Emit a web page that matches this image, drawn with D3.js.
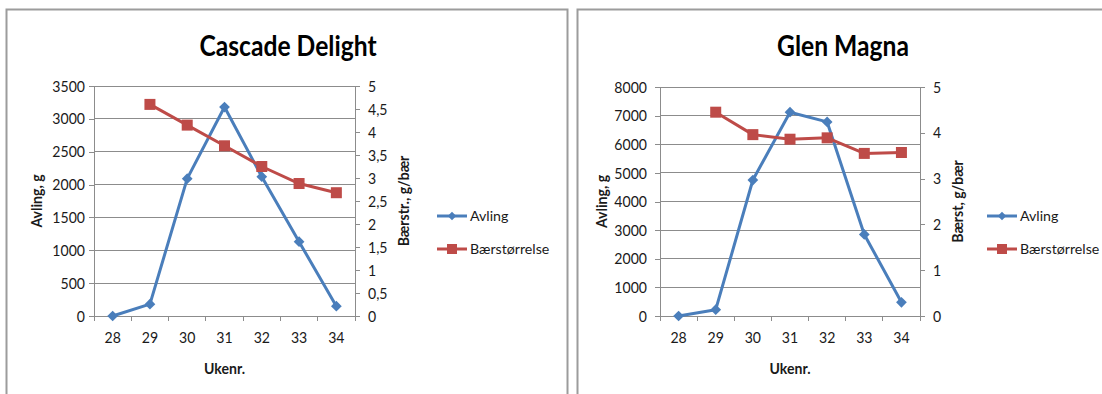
<!DOCTYPE html>
<html>
<head>
<meta charset="utf-8">
<script src="https://cdn.jsdelivr.net/npm/d3@7"></script>
<style>
  html, body { margin: 0; padding: 0; background: #fff; }
  svg { display: block; font-family: Lato, "Open Sans", sans-serif; }
</style>
</head>
<body>
<svg id="chart" width="1102" height="394"></svg>
<script>
// Weeks (x categories), shared by both varieties
const weeks = [28, 29, 30, 31, 32, 33, 34];

// Cascade Delight
const cascadeYield = [0, 180, 2090, 3180, 2120, 1130, 150];          // Avling, g
const cascadeBerry = [null, 4.6, 4.15, 3.7, 3.25, 2.88, 2.68];       // Bærstørrelse, g/bær
const cascadeYieldTicks = [0, 500, 1000, 1500, 2000, 2500, 3000, 3500];
const cascadeBerryTicks = [0, 0.5, 1, 1.5, 2, 2.5, 3, 3.5, 4, 4.5, 5];

// Glen Magna
const glenYield = [0, 220, 4750, 7120, 6780, 2850, 480];
const glenBerry = [null, 4.45, 3.96, 3.86, 3.89, 3.55, 3.57];
const glenYieldTicks = [0, 1000, 2000, 3000, 4000, 5000, 6000, 7000, 8000];
const glenBerryTicks = [0, 1, 2, 3, 4, 5];

const seriesNames = ["Avling", "Bærstørrelse"];

const BLUE = "#4a7ebb";
const RED = "#be4b48";
const GRID = "#8c8c8c";
const TEXT = "#1a1a1a";

const svg = d3.select("#chart");
const commaFmt = v => String(v).replace(".", ",");

function panel(cfg) {
  const g = svg.append("g");

  // frame
  g.append("rect")
    .attr("x", cfg.frame[0]).attr("y", cfg.frame[1])
    .attr("width", cfg.frame[2]).attr("height", cfg.frame[3])
    .attr("fill", "none").attr("stroke", "#9c9c9c").attr("stroke-width", 2);

  const x = d3.scaleBand().domain(weeks).range([cfg.left, cfg.right]);
  const yL = d3.scaleLinear().domain([0, d3.max(cfg.yTicks)]).range([cfg.bottom, cfg.top]);
  const yR = d3.scaleLinear().domain([0, d3.max(cfg.rTicks)]).range([cfg.bottom, cfg.top]);
  const cx = d => x(d) + x.bandwidth() / 2;

  // horizontal gridlines
  g.append("g").selectAll("line").data(cfg.yTicks.slice(1)).join("line")
    .attr("x1", cfg.left).attr("x2", cfg.right)
    .attr("y1", d => yL(d)).attr("y2", d => yL(d))
    .attr("stroke", GRID).attr("stroke-width", 1)
    .attr("shape-rendering", "crispEdges");

  // left axis
  const axL = g.append("g").attr("transform", `translate(${cfg.left},0)`)
    .call(d3.axisLeft(yL).tickValues(cfg.yTicks).tickSize(5).tickPadding(cfg.lPad)
      .tickFormat(d3.format("d")));
  // right axis
  const axR = g.append("g").attr("transform", `translate(${cfg.right},0)`)
    .call(d3.axisRight(yR).tickValues(cfg.rTicks).tickSize(5).tickPadding(8).tickFormat(commaFmt));
  // bottom axis with ticks between categories
  const axB = g.append("g").attr("transform", `translate(0,${cfg.bottom})`)
    .call(d3.axisBottom(x).tickSize(0).tickPadding(16));
  g.append("g").selectAll("line")
    .data(weeks.map(w => x(w)).concat([cfg.right])).join("line")
    .attr("x1", d => d).attr("x2", d => d)
    .attr("y1", cfg.bottom).attr("y2", cfg.bottom + 5)
    .attr("stroke", GRID).attr("shape-rendering", "crispEdges");

  [axL, axR, axB].forEach(a => {
    a.select(".domain").attr("stroke", GRID).attr("shape-rendering", "crispEdges");
    a.selectAll(".tick line").attr("stroke", GRID).attr("shape-rendering", "crispEdges");
    a.selectAll("text").attr("fill", TEXT).attr("font-size", 16).attr("font-family", "Lato, sans-serif");
  });

  // title
  g.append("text").attr("x", cfg.titleX).attr("y", 56)
    .attr("text-anchor", "middle").attr("font-size", 28).attr("font-weight", 700)
    .attr("fill", "#000").text(cfg.title);

  // axis titles
  g.append("text").attr("x", (cfg.left + cfg.right) / 2).attr("y", 374)
    .attr("text-anchor", "middle").attr("font-size", 16).attr("font-weight", 700)
    .attr("fill", TEXT).text("Ukenr.");
  g.append("text")
    .attr("transform", `translate(${cfg.lTitleX},${(cfg.top + cfg.bottom) / 2}) rotate(-90)`)
    .attr("text-anchor", "middle").attr("font-size", 16).attr("font-weight", 700)
    .attr("fill", TEXT).text("Avling, g");
  g.append("text")
    .attr("transform", `translate(${cfg.rTitleX},${(cfg.top + cfg.bottom) / 2}) rotate(-90)`)
    .attr("text-anchor", "middle").attr("font-size", 16).attr("font-weight", 700)
    .attr("fill", TEXT).text(cfg.rTitle);

  // yield line (blue, diamonds)
  const yieldPts = weeks.map((w, i) => ({ w, v: cfg.yieldVals[i] }));
  g.append("path").datum(yieldPts)
    .attr("d", d3.line().x(d => cx(d.w)).y(d => yL(d.v)))
    .attr("fill", "none").attr("stroke", BLUE).attr("stroke-width", 3)
    .attr("stroke-linejoin", "round");
  g.append("g").selectAll("path").data(yieldPts).join("path")
    .attr("transform", d => `translate(${cx(d.w)},${yL(d.v)}) rotate(45)`)
    .attr("d", "M-3.8,-3.8H3.8V3.8H-3.8Z").attr("fill", BLUE);

  // berry size line (red, squares)
  const berryPts = weeks.map((w, i) => ({ w, v: cfg.berryVals[i] }));
  g.append("path").datum(berryPts)
    .attr("d", d3.line().defined(d => d.v != null).x(d => cx(d.w)).y(d => yR(d.v)))
    .attr("fill", "none").attr("stroke", RED).attr("stroke-width", 3)
    .attr("stroke-linejoin", "round");
  g.append("g").selectAll("rect").data(berryPts.filter(d => d.v != null)).join("rect")
    .attr("x", d => cx(d.w) - 5.5).attr("y", d => yR(d.v) - 5.5)
    .attr("width", 11).attr("height", 11).attr("fill", RED);

  // legend
  const leg = g.append("g");
  seriesNames.forEach((name, i) => {
    const ly = 216 + i * 33;
    const color = i === 0 ? BLUE : RED;
    leg.append("line").attr("x1", cfg.legX).attr("x2", cfg.legX + 30)
      .attr("y1", ly).attr("y2", ly).attr("stroke", color).attr("stroke-width", 3);
    if (i === 0) {
      leg.append("path").attr("transform", `translate(${cfg.legX + 15},${ly}) rotate(45)`)
        .attr("d", "M-3,-3H3V3H-3Z").attr("fill", color);
    } else {
      leg.append("rect").attr("x", cfg.legX + 10).attr("y", ly - 5)
        .attr("width", 10).attr("height", 10).attr("fill", color);
    }
    leg.append("text").attr("class", "legend-label")
      .attr("x", cfg.legX + 33).attr("y", ly + 5)
      .attr("font-size", 14.2).attr("fill", TEXT).text(name);
  });
}

panel({
  frame: [6.5, 9.5, 561, 400],
  left: 94, right: 355, top: 86, bottom: 316,
  yTicks: cascadeYieldTicks, rTicks: cascadeBerryTicks,
  yieldVals: cascadeYield, berryVals: cascadeBerry,
  title: "Cascade Delight", titleX: 288,
  rTitle: "Bærstr., g/bær", lTitleX: 42, rTitleX: 409,
  lPad: 4, legX: 437
});

panel({
  frame: [577.5, 9.5, 540, 400],
  left: 660, right: 920, top: 87, bottom: 316,
  yTicks: glenYieldTicks, rTicks: glenBerryTicks,
  yieldVals: glenYield, berryVals: glenBerry,
  title: "Glen Magna", titleX: 843,
  rTitle: "Bærst, g/bær", lTitleX: 607, rTitleX: 963,
  lPad: 8, legX: 987
});

// Narrow the axis and title labels horizontally for a condensed look
svg.selectAll("text:not(.legend-label)").each(function () {
  const len = this.getComputedTextLength();
  d3.select(this).attr("textLength", len * 0.88).attr("lengthAdjust", "spacingAndGlyphs");
});
</script>
</body>
</html>
